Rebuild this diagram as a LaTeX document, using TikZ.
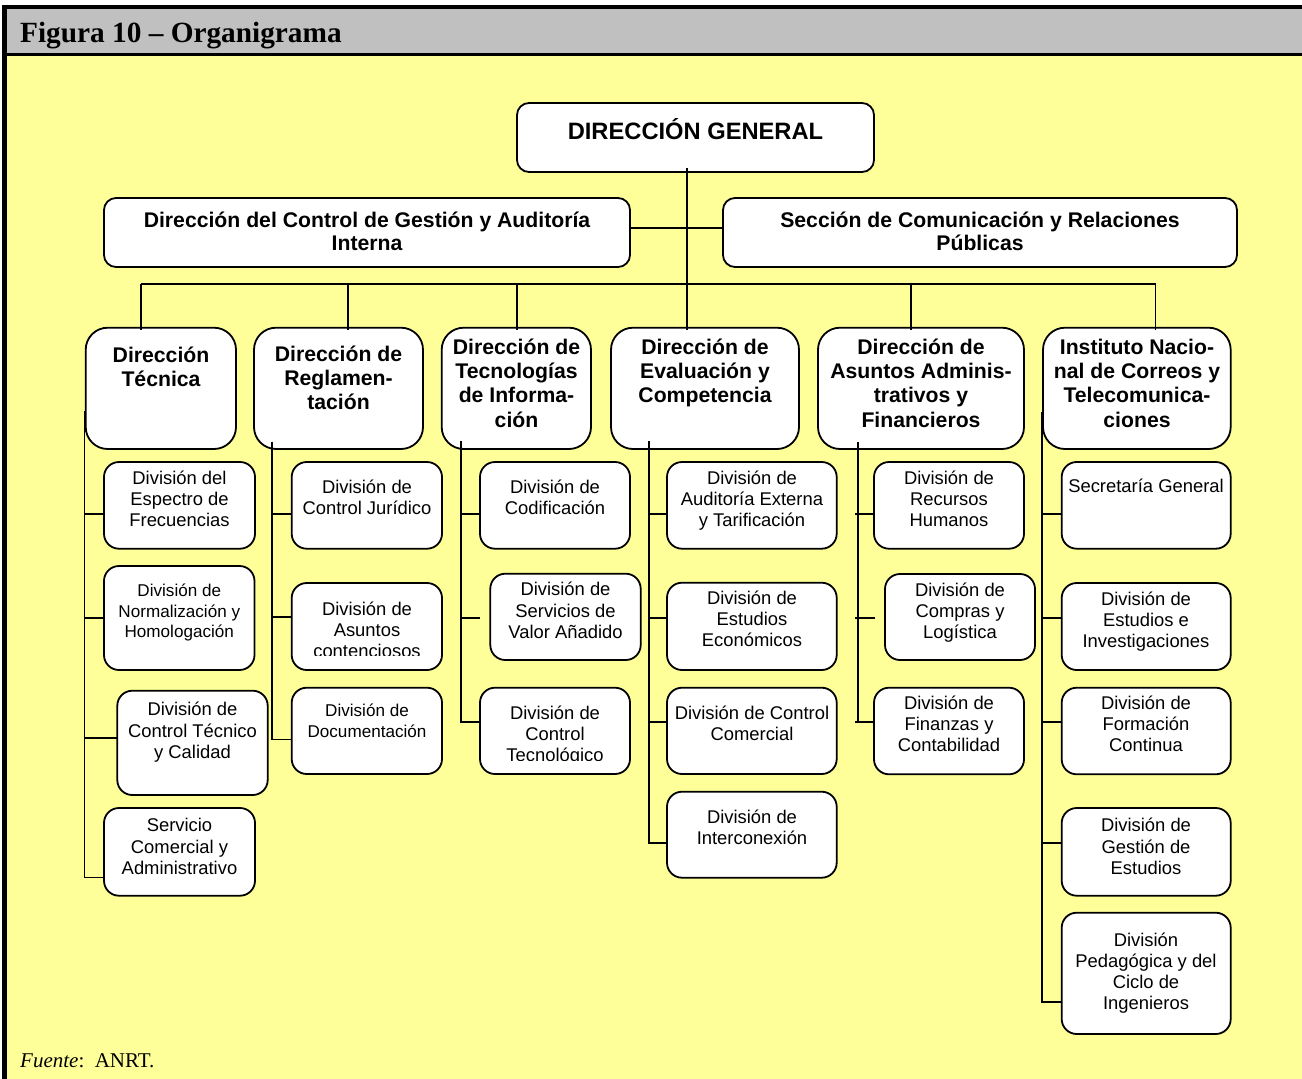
\documentclass[tikz,border=0pt]{standalone}
\usepackage{fontspec}
\setmainfont{Liberation Sans}
\newfontfamily\tnr{Liberation Serif}
\newcommand{\ml}[1]{\vtop{\halign{\hfil##\hfil\cr#1\crcr}}}
\definecolor{bgy}{RGB}{255,255,153}
\definecolor{hdg}{RGB}{192,192,192}
\tikzset{
  boxst/.style={draw=black, line width=1.8pt, fill=white, inner sep=0pt, outer sep=0pt, anchor=north west},
  ln/.style={draw=black, line width=1.7pt},
  tt/.style={inner sep=0pt, anchor=base},
  dgf/.style={tt, font=\bfseries\fontsize{23.7}{27}\selectfont},
  hdf/.style={tt, font=\bfseries\fontsize{21.2}{22.4}\selectfont},
  drf/.style={tt, font=\bfseries\fontsize{21.2}{24.4}\selectfont},
  dvf/.style={tt, font=\fontsize{18.4}{21.3}\selectfont},
  dsf/.style={tt, font=\fontsize{17.1}{20.3}\selectfont}
}
% name, x1, y1, x2, y2, radius
\newcommand{\bx}[6]{\node[boxst, rounded corners=#6pt, minimum width={#4-#2}, minimum height={#5-#3}] (#1) at (#2,#3) {};}
% style, name, x, baseline y, text
\newcommand{\tx}[5]{\node[#1] (#2) at (#3,#4) {\ml{#5}};}
\begin{document}
\begin{tikzpicture}[x=1pt,y=-1pt]
\useasboundingbox (0,0) rectangle (1302,1079);
% frame
\fill[white] (0,0) rectangle (1302,1079);
\fill[bgy] (7,55) rectangle (1302,1079);
\fill[hdg] (7,9) rectangle (1302,53.5);
\fill[black] (2,5) rectangle (1302,9);
\fill[black] (7,53.3) rectangle (1302,55.8);
\fill[black] (2,5) rectangle (7,1079);
\node[anchor=base west, inner sep=0pt, font=\tnr\bfseries\fontsize{29.3}{34}\selectfont] (cap) at (20,42.7) {Figura 10 – Organigrama};
\node[anchor=base west, inner sep=0pt, font=\tnr\fontsize{21}{24}\selectfont] (src) at (20,1067) {\textit{Fuente}:\ \ ANRT.};

% top level
\bx{dg}{517}{103}{874}{172}{12}
\tx{dgf}{dgt}{695.5}{139.3}{DIRECCIÓN GENERAL}
\bx{cg}{104}{198}{630}{267}{12}
\tx{hdf}{cgt}{367}{227.7}{Dirección del Control de Gestión y Auditoría\cr Interna}
\bx{sc}{723}{198}{1237}{267}{12}
\tx{hdf}{sct}{980}{227.7}{Sección de Comunicación y Relaciones\cr Públicas}

% directors
\bx{d1}{85.7}{327.7}{236}{449}{22}
\tx{drf}{d1t}{161}{362.3}{Dirección\cr Técnica}
\bx{d2}{254}{327.7}{423}{449}{22}
\tx{drf}{d2t}{338.5}{361}{Dirección de\cr Reglamen-\cr tación}
\bx{d3}{441.7}{327.7}{591}{449}{22}
\tx{drf}{d3t}{516.5}{354}{Dirección de\cr Tecnologías\cr de Informa-\cr ción}
\bx{d4}{611}{327.7}{799}{449}{22}
\tx{drf}{d4t}{705}{354}{Dirección de\cr Evaluación y\cr Competencia}
\bx{d5}{818}{327.7}{1024}{449}{22}
\tx{drf}{d5t}{921}{354}{Dirección de\cr Asuntos Adminis-\cr trativos y\cr Financieros}
\bx{d6}{1043}{327.7}{1230.7}{449}{22}
\tx{drf}{d6t}{1137}{354}{Instituto Nacio-\cr nal de Correos y\cr Telecomunica-\cr ciones}

% column 1
\bx{a1}{104}{462}{255}{548.7}{15}
\tx{dvf}{a1t}{179.5}{484}{División del\cr Espectro de\cr Frecuencias}
\bx{a2}{104}{566}{254.5}{670}{15}
\tx{dsf}{a2t}{179.3}{596.7}{División de\cr Normalización y\cr Homologación}
\bx{a3}{117.3}{690.7}{267.7}{795}{15}
\tx{dvf}{a3t}{192.5}{715.7}{División de\cr Control Técnico\cr y Calidad}
\bx{a4}{104}{808}{255}{895.7}{15}
\tx{dvf}{a4t}{179.5}{831.7}{Servicio\cr Comercial y\cr Administrativo}

% column 2
\bx{b1}{291.7}{462}{442}{548.7}{15}
\tx{dvf}{b1t}{367}{493}{División de\cr Control Jurídico}
\bx{b2}{291.7}{583}{442}{670}{15}
\begin{scope}
\clip (291.7,583) rectangle (442,655.8);
\tx{dvf}{b2t}{367}{615}{División de\cr Asuntos\cr contenciosos}
\end{scope}
\bx{b3}{291.7}{687.7}{442}{774}{15}
\tx{dsf}{b3t}{367}{716.7}{División de\cr Documentación}

% column 3
\bx{c1}{480}{462}{630}{548.7}{15}
\tx{dvf}{c1t}{555}{493}{División de\cr Codificación}
\bx{c2}{490.3}{573.7}{640.7}{660}{15}
\tx{dvf}{c2t}{565.5}{595.7}{División de\cr Servicios de\cr Valor Añadido}
\bx{c3}{480}{687.7}{630}{774}{15}
\begin{scope}
\clip (480,687.7) rectangle (630,760.5);
\tx{dvf}{c3t}{555}{719}{División de\cr Control\cr Tecnológico}
\end{scope}

% column 4
\bx{e1}{667}{462}{836.7}{548.7}{15}
\tx{dvf}{e1t}{752}{484}{División de\cr Auditoría Externa\cr y Tarificación}
\bx{e2}{667}{582.7}{836.7}{670}{15}
\tx{dvf}{e2t}{752}{604.3}{División de\cr Estudios\cr Económicos}
\bx{e3}{667}{687.7}{836.7}{774}{15}
\tx{dvf}{e3t}{752}{719}{División de Control\cr Comercial}
\bx{e4}{667}{791.7}{836.7}{877.7}{15}
\tx{dvf}{e4t}{752}{823.3}{División de\cr Interconexión}

% column 5
\bx{f1}{874}{462}{1024}{548.7}{15}
\tx{dvf}{f1t}{949}{484}{División de\cr Recursos\cr Humanos}
\bx{f2}{885}{574}{1035}{660}{15}
\tx{dvf}{f2t}{960}{596}{División de\cr Compras y\cr Logística}
\bx{f3}{874}{687.7}{1024}{774.3}{15}
\tx{dvf}{f3t}{949}{709.3}{División de\cr Finanzas y\cr Contabilidad}

% column 6
\bx{g1}{1061.7}{462}{1230.7}{548.7}{15}
\tx{dvf}{g1t}{1146}{492.7}{Secretaría General}
\bx{g2}{1061.7}{583}{1230.7}{670}{15}
\tx{dvf}{g2t}{1146}{605}{División de\cr Estudios e\cr Investigaciones}
\bx{g3}{1061.7}{687.7}{1230.7}{774.3}{15}
\tx{dvf}{g3t}{1146}{709.3}{División de\cr Formación\cr Continua}
\bx{g4}{1061.7}{808}{1230.7}{895.7}{15}
\tx{dvf}{g4t}{1146}{831.7}{División de\cr Gestión de\cr Estudios}
\bx{g5}{1061.7}{912.7}{1230.7}{1034}{15}
\tx{dvf}{g5t}{1146}{946}{División\cr Pedagógica y del\cr Ciclo de\cr Ingenieros}

% connectors: trunk and buses
\coordinate (tr) at (686.7,168);
\coordinate (mid) at (686.7,228);
\coordinate (bus) at (686.7,284);
\coordinate (bl) at (141,284);
\coordinate (br) at (1155.5,284);
\draw[ln] (tr) -- ([yshift=-2pt]tr |- d4.north);
\draw[ln] (mid -| cg.east) -- (mid -| sc.west);
\draw[ln] (bl) -- (br);
\draw[ln] (bl) -- ([yshift=-2pt]bl |- d1.north);
\draw[ln] (bus -| 347.7,0) -- ([yshift=-2pt]347.7,0 |- d2.north);
\draw[ln] (bus -| 517,0) -- ([yshift=-2pt]517,0 |- d3.north);
\draw[ln] (bus -| 911,0) -- ([yshift=-2pt]911,0 |- d5.north);
\draw[ln] (br) -- ([yshift=-2pt]br |- d6.north);

% column 1 connectors
\coordinate (v1) at (84.5,411);
\draw[ln] (v1) -- (v1 |- 0,877.5) -- (a4.west |- 0,877.5);
\draw[ln] (v1 |- 0,514) -- (a1.west |- 0,514);
\draw[ln] (v1 |- 0,617.7) -- (a2.west |- 0,617.7);
\draw[ln] (v1 |- 0,738.3) -- (a3.west |- 0,738.3);

% column 2 connectors
\coordinate (v2) at (272.3,441.7);
\draw[ln] (v2) -- (v2 |- 0,739.5) -- (b3.west |- 0,739.5);
\draw[ln] (v2 |- 0,514) -- (b1.west |- 0,514);
\draw[ln] (v2 |- 0,617) -- (b2.west |- 0,617);

% column 3 connectors
\coordinate (v3) at (460.7,441);
\coordinate (c2e) at (480,617.7);
\draw[ln] (v3) -- (v3 |- 0,722) -- (c3.west |- 0,722);
\draw[ln] (v3 |- 0,514) -- (c1.west |- 0,514);
\draw[ln] (v3 |- c2e) -- (c2e);

% column 4 connectors
\coordinate (v4) at (649,441);
\draw[ln] (v4) -- (v4 |- 0,843) -- (e4.west |- 0,843);
\draw[ln] (v4 |- 0,514) -- (e1.west |- 0,514);
\draw[ln] (v4 |- 0,617.7) -- (e2.west |- 0,617.7);
\draw[ln] (v4 |- 0,722) -- (e3.west |- 0,722);

% column 5 connectors
\coordinate (v5) at (858,442);
\coordinate (f2s) at (855,617.7);
\coordinate (f2e) at (875,617.7);
\draw[ln] (v5) -- (v5 |- 0,721.7);
\draw[ln] (855,514 -| f2s) -- (f1.west |- 0,514);
\draw[ln] (f2s) -- (f2e);
\draw[ln] (f2s |- 0,721.7) -- (f3.west |- 0,721.7);

% column 6 connectors
\coordinate (v6) at (1041.7,411.7);
\draw[ln] (v6) -- (v6 |- 0,1001.7) -- (g5.west |- 0,1001.7);
\draw[ln] (v6 |- 0,514) -- (g1.west |- 0,514);
\draw[ln] (v6 |- 0,618) -- (g2.west |- 0,618);
\draw[ln] (v6 |- 0,721.7) -- (g3.west |- 0,721.7);
\draw[ln] (v6 |- 0,842.7) -- (g4.west |- 0,842.7);
\end{tikzpicture}
\end{document}
